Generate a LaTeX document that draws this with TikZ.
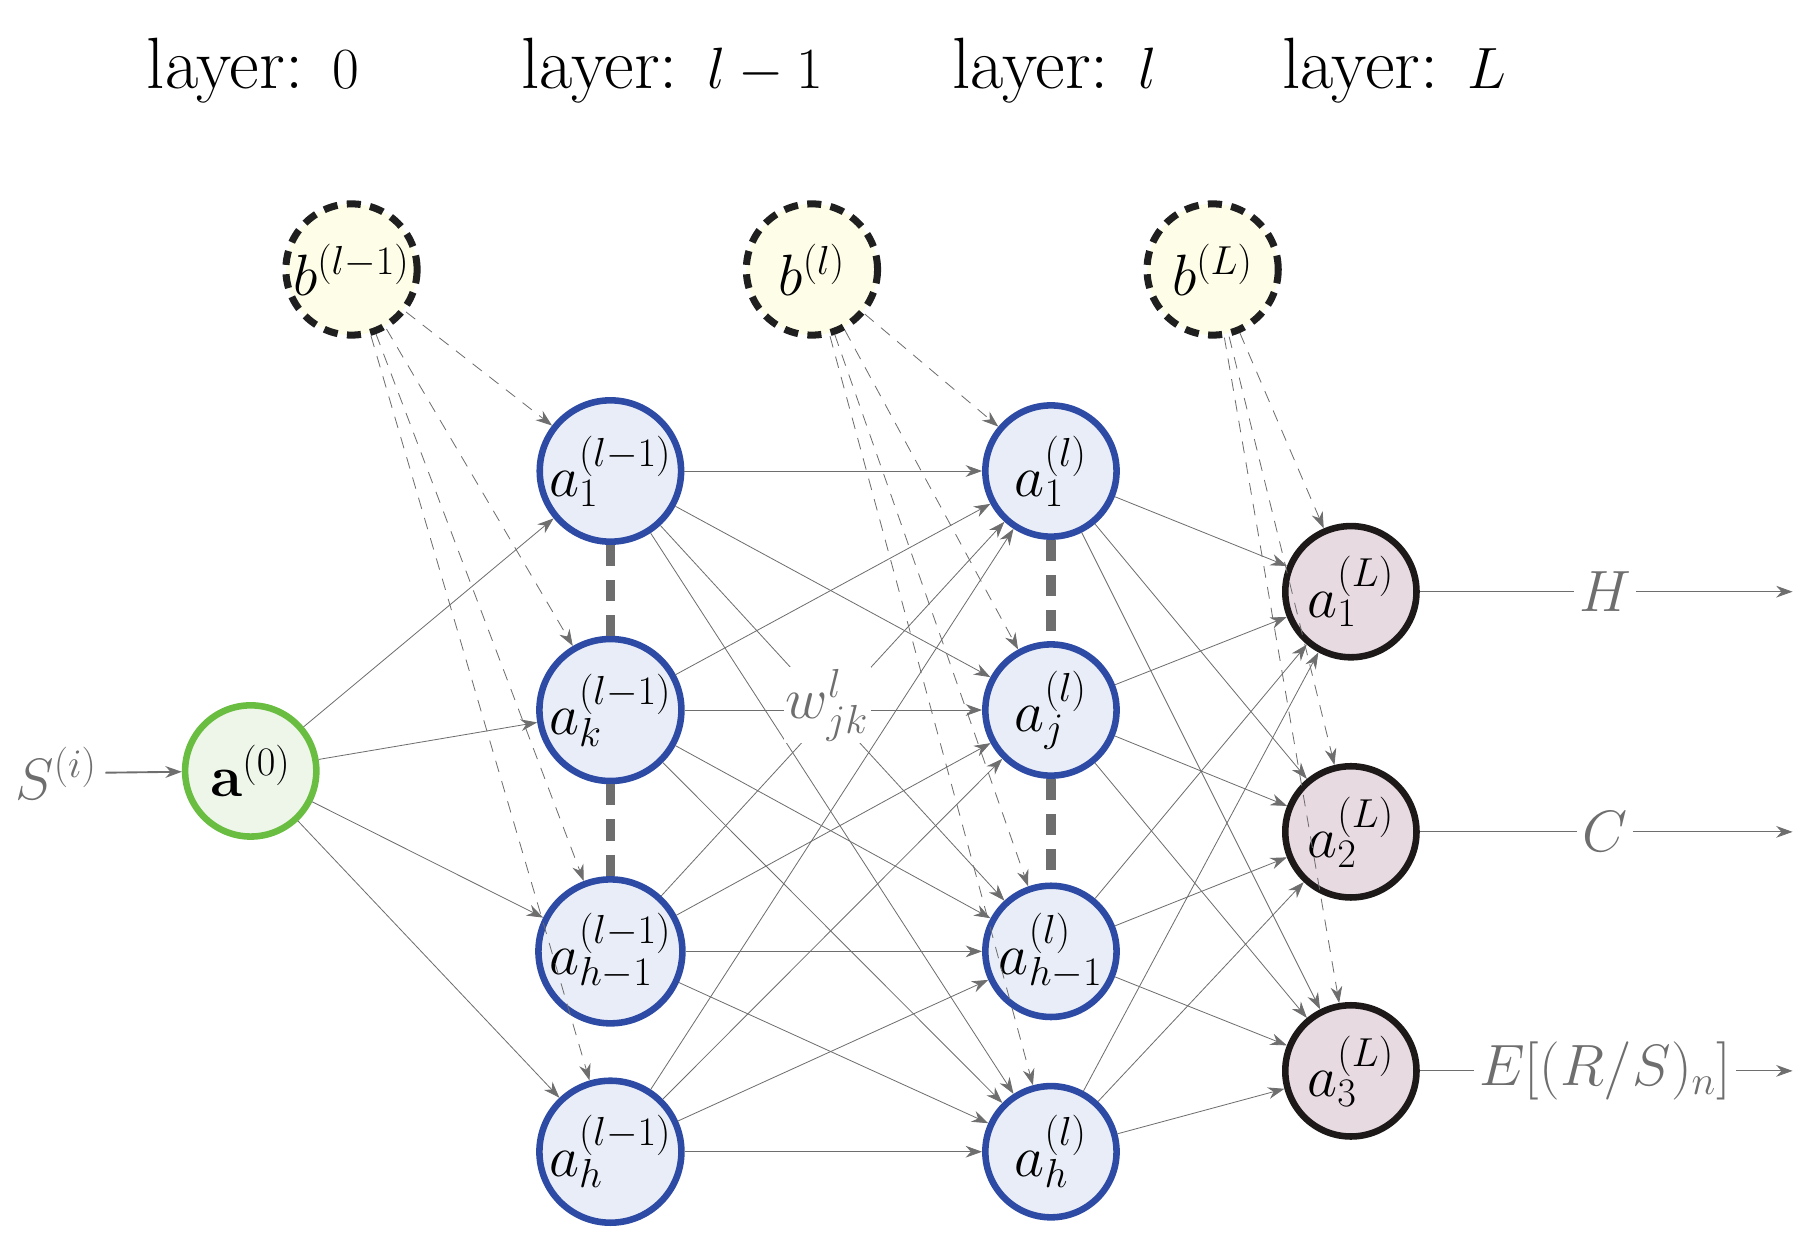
\documentclass[tikz,border=0pt]{standalone}
\usetikzlibrary{arrows.meta}
\definecolor{bfill}{RGB}{233,237,247}
\definecolor{bdraw}{RGB}{45,75,165}
\definecolor{gfill}{RGB}{238,246,233}
\definecolor{gdraw}{RGB}{105,190,65}
\definecolor{ofill}{RGB}{232,218,225}
\definecolor{odraw}{RGB}{30,25,25}
\definecolor{yfill}{RGB}{254,253,232}
\definecolor{edge}{RGB}{110,110,110}
\begin{document}
\begin{tikzpicture}[x=0.5pt,y=-0.5pt,
  neuron/.style={circle,minimum size=56pt,inner sep=0pt,line width=2.8pt,font=\fontsize{24}{28}\selectfont},
  hid/.style={neuron,draw=bdraw,fill=bfill},
  inp/.style={neuron,draw=gdraw,fill=gfill},
  outn/.style={neuron,draw=odraw,fill=ofill},
  bias/.style={neuron,draw=black!88,fill=yfill,line width=3pt,dash pattern=on 6pt off 4pt},
  w/.style={draw=edge,line width=0.35pt,-{Stealth[length=7pt,width=5pt]}},
  bw/.style={w,dash pattern=on 5pt off 4pt},
  title/.style={font=\fontsize{31}{36}\selectfont},
  lab/.style={text=edge,font=\fontsize{24}{28}\selectfont},
  vd/.style={draw=edge,line width=4pt,dash pattern=on 9pt off 6pt}]
\useasboundingbox (0,0) rectangle (1550,1057);
\node[title] (t0) at (216,60) {layer: $0$};
\node[title] (t1) at (574,60) {layer: $l-1$};
\node[title] (t2) at (900,60) {layer: $l$};
\node[title] (t3) at (1190,60) {layer: $L$};
\node[bias] (b1) at (300,230) {$b^{(l-1)}$};
\node[bias] (b2) at (693,230) {$b^{(l)}$};
\node[bias] (b3) at (1035,230) {$b^{(L)}$};
\node[inp] (a0) at (214,658) {$\mathbf{a}^{(0)}$};
\node[hid] (p1) at (521,402) {$a^{(l-1)}_1$};
\node[hid] (p2) at (521,606) {$a^{(l-1)}_k$};
\node[hid] (p3) at (521,812) {$a^{(l-1)}_{h-1}$};
\node[hid] (p4) at (521,983) {$a^{(l-1)}_h$};
\node[hid] (q1) at (897,402) {$a^{(l)}_1$};
\node[hid] (q2) at (897,606) {$a^{(l)}_j$};
\node[hid] (q3) at (897,812) {$a^{(l)}_{h-1}$};
\node[hid] (q4) at (897,983) {$a^{(l)}_h$};
\node[outn] (o1) at (1153,505) {$a^{(L)}_1$};
\node[outn] (o2) at (1153,710) {$a^{(L)}_2$};
\node[outn] (o3) at (1153,914) {$a^{(L)}_3$};
\draw[vd] (p1.south) -- (p2.north);
\draw[vd] (p2.south) -- (p3.north);
\draw[vd] (q1.south) -- (q2.north);
\draw[vd] (q2.south) -- (q3.north);
\node[lab,anchor=east] (s) at (90,660) {$S^{(i)}$};
\draw[w,line width=0.8pt] (s) -- (a0);
\foreach \p in {p1,p2,p3,p4}{\draw[w] (a0) -- (\p); \draw[bw] (b1) -- (\p);}
\foreach \p in {p1,p2,p3,p4}{\foreach \q in {q1,q2,q3,q4}{\draw[w] (\p) -- (\q);}}
\foreach \q in {q1,q2,q3,q4}{\draw[bw] (b2) -- (\q); \foreach \o in {o1,o2,o3}{\draw[w] (\q) -- (\o);}}
\foreach \o in {o1,o2,o3}{\draw[bw] (b3) -- (\o);}
\node[lab,fill=white,inner sep=1pt] (wl) at (706,602) {$w^{l}_{jk}$};
\coordinate (e1) at (1530,505);
\coordinate (e2) at (1530,710);
\coordinate (e3) at (1530,914);
\node[lab,fill=white,inner sep=2pt] (h) at (1370,505) {$H$};
\node[lab,fill=white,inner sep=2pt] (c) at (1370,710) {$C$};
\node[lab,fill=white,inner sep=2pt] (e) at (1370,914) {$E[(R/S)_n]$};
\draw[w] (o1) -- (h) -- (e1);
\draw[w] (o2) -- (c) -- (e2);
\draw[w] (o3) -- (e) -- (e3);
\end{tikzpicture}
\end{document}
